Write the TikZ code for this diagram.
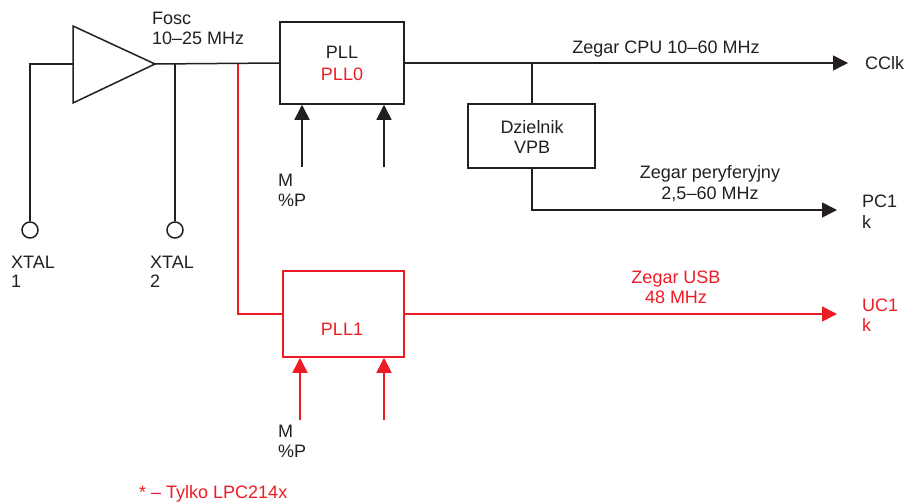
\documentclass[tikz,border=0pt]{standalone}
\usepackage{fontspec}
\setmainfont{Liberation Sans}
\usetikzlibrary{arrows.meta}
\definecolor{dred}{RGB}{237,28,36}
\definecolor{dblk}{RGB}{35,31,32}
\begin{document}
\begin{tikzpicture}[x=1pt,y=-1pt,
  wire/.style={draw=dblk,line width=1.5pt},
  rwire/.style={draw=dred,line width=1.5pt},
  tip/.style={-{Triangle[length=15pt,width=15pt]}},
  box/.style={draw=dblk,line width=1.5pt,rectangle,inner sep=0pt},
  rbox/.style={draw=dred,line width=1.5pt,rectangle,inner sep=0pt},
  lbl/.style={inner sep=0pt,anchor=base,text=dblk,font=\fontsize{18}{20}\selectfont},
  lbll/.style={lbl,anchor=base west},
  rlbl/.style={lbl,text=dred},
  rlbll/.style={lbll,text=dred},
  pin/.style={circle,draw=dblk,line width=1.5pt,minimum size=16pt,inner sep=0pt}
]
\useasboundingbox (0,0) rectangle (917,503);

% amplifier
\draw[wire,line join=miter] (73,26) -- (155,64) -- (73,103) -- cycle;
\coordinate (ampin) at (73,64);
\coordinate (ampout) at (155,64);
\coordinate (x1c) at (30,64);
\coordinate (x2c) at (175,64);
\coordinate (rc) at (238,64);

% pins
\node[pin] (xt1) at (30,230) {};
\node[pin] (xt2) at (175,230) {};

% boxes
\node[box,minimum width=124pt,minimum height=82pt] (pll0) at (342,63) {};
\node[box,minimum width=127pt,minimum height=64pt] (div) at (531.5,136) {};
\node[rbox,minimum width=121pt,minimum height=86pt] (pll1) at (343.5,314) {};

% wires
\draw[wire] (ampin) -- (x1c) -- (xt1.north);
\draw[wire] (ampout) -- (pll0.west);
\draw[wire] (x2c) -- (xt2.north);
\draw[rwire] (rc) |- (pll1.west);

\coordinate (cclkend) at (848,63);
\coordinate (divtap) at (532,63);
\draw[wire,tip] (pll0.east) -- (cclkend);
\draw[wire] (divtap) -- (div.north -| divtap);
\coordinate (pcend) at (837,210);
\draw[wire,tip] (div.south -| divtap) |- (pcend);

\coordinate (usbend) at (837,314);
\draw[rwire,tip] (pll1.east |- usbend) -- (usbend);

% control arrows
\coordinate (m0a) at (302,167);
\coordinate (m0b) at (384,167);
\draw[wire,tip] (m0a) -- (pll0.south -| m0a);
\draw[wire,tip] (m0b) -- (pll0.south -| m0b);
\coordinate (m1a) at (300,420);
\coordinate (m1b) at (384,420);
\draw[rwire,tip] (m1a) -- (pll1.south -| m1a);
\draw[rwire,tip] (m1b) -- (pll1.south -| m1b);

% texts
\node[lbll] (fosc) at (152,25) {Fosc};
\node[lbll] (fosc2) at (152,45) {10–25 MHz};
\node[lbl] (t-pll) at (342,59) {PLL};
\node[rlbl] (t-pll0) at (342,80) {PLL0};
\node[lbl] (t-div1) at (532,133) {Dzielnik};
\node[lbl] (t-div2) at (532,153) {VPB};
\node[lbl] (t-cpu) at (666,54) {Zegar CPU 10–60 MHz};
\node[lbll] (t-cclk) at (865,69) {CClk};
\node[lbl] (t-per1) at (710,178) {Zegar peryferyjny};
\node[lbl] (t-per2) at (710,199) {2,5–60 MHz};
\node[lbll] (t-pc1) at (862,207) {PC1};
\node[lbll] (t-pc2) at (862,228) {k};
\node[rlbl] (t-usb1) at (676,283) {Zegar USB};
\node[rlbl] (t-usb2) at (676,303) {48 MHz};
\node[rlbll] (t-uc1) at (862,311) {UC1};
\node[rlbll] (t-uc2) at (862,331) {k};
\node[rlbl] (t-pll1) at (342,335) {PLL1};
\node[lbll] (t-m0) at (278,186) {M};
\node[lbll] (t-p0) at (278,206) {\%P};
\node[lbll] (t-m1) at (278,437) {M};
\node[lbll] (t-p1) at (278,457) {\%P};
\node[lbll] (t-x1a) at (11,268) {XTAL};
\node[lbll] (t-x1b) at (11,287) {1};
\node[lbll] (t-x2a) at (150,268) {XTAL};
\node[lbll] (t-x2b) at (150,287) {2};
\node[rlbll] (t-note) at (139,498) {* – Tylko LPC214x};
\end{tikzpicture}
\end{document}
